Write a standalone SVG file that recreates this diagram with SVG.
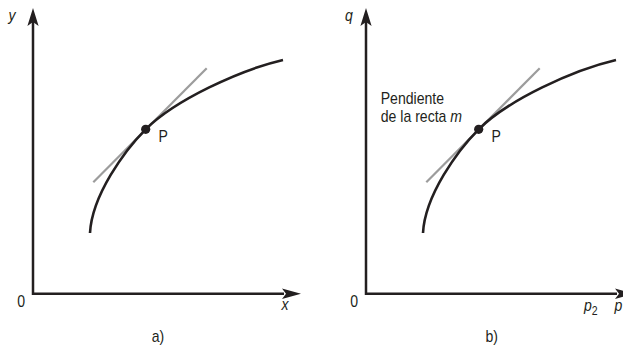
<svg xmlns="http://www.w3.org/2000/svg" width="623" height="347" viewBox="0 0 623 347">
<style>
.ax{stroke:#231f20;stroke-width:2.5;fill:none}
.ah{fill:#231f20;stroke:none}
.cv{stroke:#231f20;stroke-width:2.6;fill:none;stroke-linecap:butt}
.tg{stroke:#9c9c9c;stroke-width:2.2;fill:none}
.t{font-family:"Liberation Sans","Noto Sans",sans-serif;font-size:16px;fill:#231f20}
.i{font-style:italic}
</style>
<defs>
<path id="arrUp" d="M0,-1 L5.6,17 L0,13 L-5.6,17 Z"/>
<path id="arrRight" d="M0,0 L-19,-5.3 L-15,0 L-19,5.3 Z"/>
</defs>
<g id="panel-a">
  <g id="connectors-a">
    <path class="ax" d="M33,22 V293.8 H284"/>
    <use href="#arrUp" class="ah" x="33" y="9"/>
    <use href="#arrRight" class="ah" x="301" y="293.8"/>
    <path class="tg" d="M93.3,182.2 L206.7,68.3"/>
    <path class="cv" d="M90,233 C92,195 125,150 145.7,129.3 C175,100 240,70 283,60"/>
  </g>
  <g id="point-a"><circle cx="145.7" cy="129.3" r="4.6" fill="#231f20"/></g>
  <g id="labels-a">
    <text class="t i" transform="translate(8.5,20.7) scale(0.88,1)">y</text>
    <text class="t" transform="translate(17.3,306.5) scale(0.88,1)">0</text>
    <text class="t i" transform="translate(281.5,310) scale(0.88,1)">x</text>
    <text class="t" transform="translate(158.5,141.7) scale(0.88,1)">P</text>
    <text class="t" transform="translate(151.7,341.5) scale(0.88,1)">a)</text>
  </g>
</g>
<g id="panel-b">
  <g id="connectors-b">
    <path class="ax" d="M366,22 V293.8 H617"/>
    <use href="#arrUp" class="ah" x="366" y="9"/>
    <use href="#arrRight" class="ah" x="634" y="293.8"/>
    <path class="tg" d="M426.3,182.2 L539.7,68.3"/>
    <path class="cv" d="M423,233 C425,195 458,150 478.7,129.3 C508,100 573,70 616,60"/>
  </g>
  <g id="point-b"><circle cx="478.7" cy="129.3" r="4.6" fill="#231f20"/></g>
  <g id="labels-b">
    <text class="t i" transform="translate(345,20.7) scale(0.88,1)">q</text>
    <text class="t" transform="translate(350.3,306.5) scale(0.88,1)">0</text>
    <text class="t" transform="translate(491.5,141.7) scale(0.88,1)">P</text>
    <text class="t" transform="translate(380.7,104.3) scale(0.88,1)">Pendiente</text>
    <text class="t" transform="translate(380.7,122.3) scale(0.88,1)">de la recta <tspan class="i">m</tspan></text>
    <text class="t" transform="translate(584,311) scale(0.88,1)"><tspan class="i">p</tspan><tspan font-size="12" dy="4">2</tspan></text>
    <text class="t i" transform="translate(614.5,311) scale(0.88,1)">p</text>
    <text class="t" transform="translate(485.5,341.5) scale(0.88,1)">b)</text>
  </g>
</g>
</svg>
